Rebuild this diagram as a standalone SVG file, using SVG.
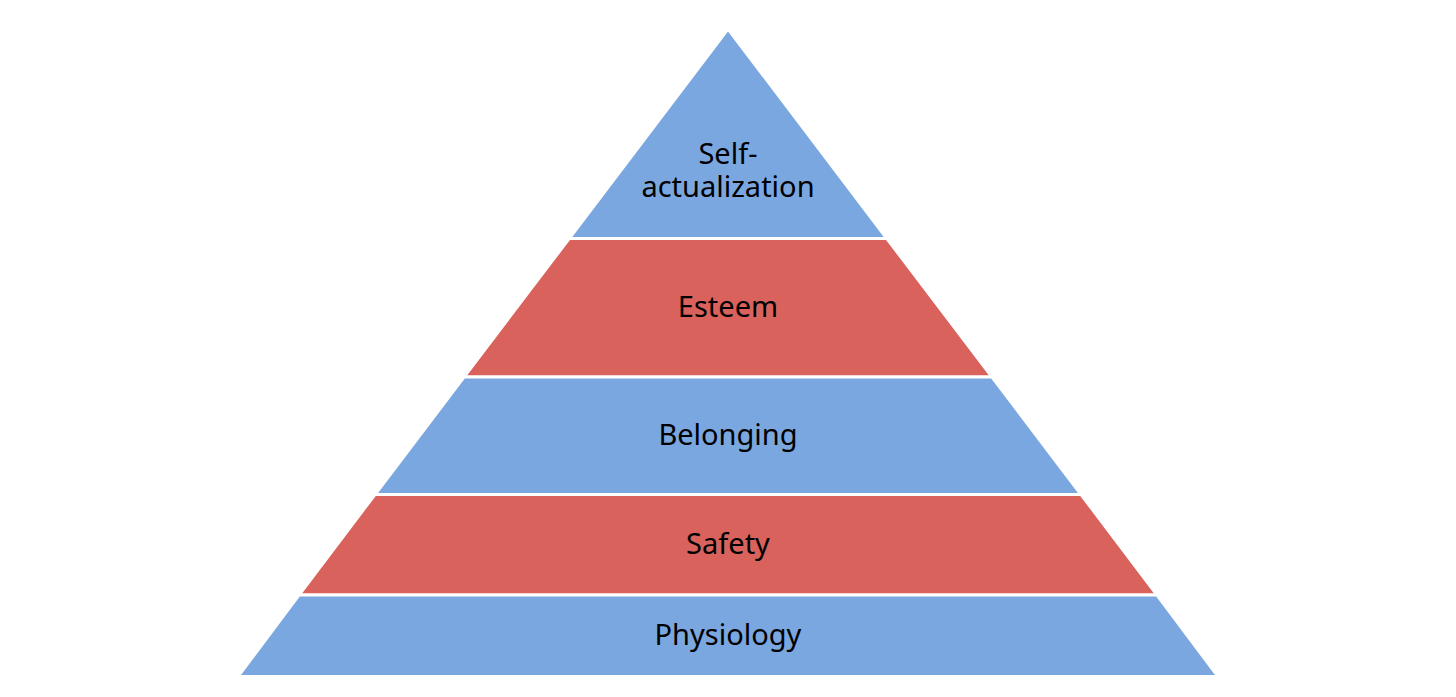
<svg xmlns="http://www.w3.org/2000/svg" width="1456" height="697" viewBox="0 0 1456 697">
  <style>
    .blue { fill: #7BA7E0; stroke: #FFFFFF; stroke-width: 3; stroke-linejoin: miter; }
    .red { fill: #D9625C; stroke: #FFFFFF; stroke-width: 3; stroke-linejoin: miter; }
    .lbl { font-family: "Noto Sans", "Open Sans", sans-serif; font-size: 29px; fill: #000000; text-anchor: middle; }
  </style>
  <rect x="0" y="0" width="1456" height="697" fill="#FFFFFF"/>
  <g id="self-actualization">
    <polygon class="blue" points="728,29 886.8,238.5 569.2,238.5"/>
    <text class="lbl" x="728" y="164">Self-</text>
    <text class="lbl" x="728" y="197">actualization</text>
  </g>
  <g id="esteem">
    <polygon class="red" points="569.2,238.5 886.8,238.5 992,377 464,377"/>
    <text class="lbl" x="728" y="317">Esteem</text>
  </g>
  <g id="belonging">
    <polygon class="blue" points="464,377 992,377 1081,494.5 375,494.5"/>
    <text class="lbl" x="728" y="445">Belonging</text>
  </g>
  <g id="safety">
    <polygon class="red" points="375,494.5 1081,494.5 1157,595 299,595"/>
    <text class="lbl" x="728" y="554">Safety</text>
  </g>
  <g id="physiology">
    <polygon class="blue" points="299,595 1157,595 1218,676.5 238,676.5"/>
    <text class="lbl" x="728" y="645">Physiology</text>
  </g>
</svg>
